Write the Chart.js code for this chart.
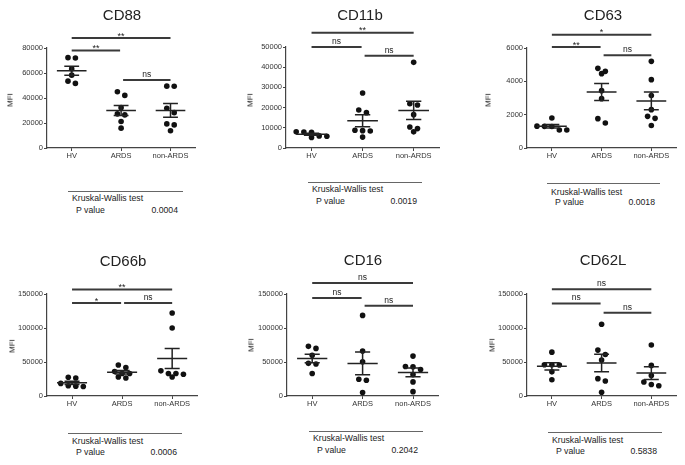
<!DOCTYPE html>
<html>
<head>
<meta charset="utf-8">
<script src="https://cdn.jsdelivr.net/npm/chart.js@4.4.0/dist/chart.umd.min.js"></script>
<style>
  body { margin: 0; background: #fff; width: 685px; height: 465px; position: relative; overflow: hidden;
         font-family: "Liberation Sans", Arial, sans-serif; color: #222; }
  canvas, .title, .mfi, .kw { position: absolute; }
  .title { font-size: 15px; transform: translate(-50%, -50%); white-space: nowrap; }
  .mfi { font-size: 8px; color: #111; transform: translate(-50%, -50%) rotate(-90deg); }
  .kw { border-top: 1.3px solid #666; font-size: 8.7px; }
  .kw span { position: absolute; white-space: nowrap; transform: translateY(-50%); }
</style>
</head>
<body>
<script>
const groups = ["HV", "ARDS", "non-ARDS"];

// CD88
const cd88HV = [72300, 72000, 63300, 58300, 51700, 53500];
const cd88ARDS = [45000, 42100, 32300, 27300, 26500, 21200, 15900];
const cd88NonARDS = [49500, 49400, 31800, 28300, 19300, 18500, 13800];
const cd88Sig = ["**", "**", "ns"];
const cd88P = "0.0004";

// CD11b
const cd11bHV = [8000, 6000, 7800, 5200, 7900, 5800];
const cd11bARDS = [27200, 18800, 17500, 8800, 8600, 8400, 5400];
const cd11bNonARDS = [42400, 21900, 21300, 16500, 10400, 9600, 8000];
const cd11bSig = ["ns", "**", "ns"];
const cd11bP = "0.0019";

// CD63
const cd63HV = [1800, 1310, 1300, 1290, 1080, 1080];
const cd63ARDS = [4600, 4460, 4780, 3440, 2960, 1760, 1500];
const cd63NonARDS = [5200, 4100, 3150, 2300, 1900, 1780, 1350];
const cd63Sig = ["**", "*", "ns"];
const cd63P = "0.0018";

// CD66b
const cd66bHV = [27500, 26500, 18500, 15000, 14500, 14000];
const cd66bARDS = [45500, 42000, 36000, 33000, 33000, 28000, 26500];
const cd66bNonARDS = [122000, 100000, 37000, 33000, 33000, 32000, 28000];
const cd66bSig = ["*", "**", "ns"];
const cd66bP = "0.0006";

// CD16
const cd16HV = [73000, 70000, 60000, 48000, 47000, 33000];
const cd16ARDS = [118500, 66000, 50300, 24700, 23200, 5000];
const cd16NonARDS = [58700, 43400, 42900, 38900, 31500, 20700, 6400];
const cd16Sig = ["ns", "ns", "ns"];
const cd16P = "0.2042";

// CD62L
const cd62lHV = [64500, 46000, 46000, 45500, 35500, 24000];
const cd62lARDS = [105500, 67500, 61000, 53000, 25500, 22000, 5500];
const cd62lNonARDS = [75000, 45000, 30000, 20500, 17000, 15000];
const cd62lSig = ["ns", "ns", "ns"];
const cd62lP = "0.5838";

// comparisons, same order as the Sig arrays
const pairs = [[0, 1], [0, 2], [1, 2]];

Chart.defaults.font.family = "'Liberation Sans', Arial, sans-serif";
Chart.defaults.font.size = 7.5;
Chart.defaults.color = "#333";

const panels = [
  { title: "CD88", data: [cd88HV, cd88ARDS, cd88NonARDS], yMax: 80000, step: 20000, sig: cd88Sig, p: cd88P,
    box: { x0: 47, x1: 196, top: 48, bottom: 148 }, levels: [0.976, 1.10, 0.68],
    titleAt: [122, 14], mfiAt: [10, 100], table: { x: 68, w: 115, y: 191, kw: 6, pv: 17.5 } },
  { title: "CD11b", data: [cd11bHV, cd11bARDS, cd11bNonARDS], yMax: 50000, step: 10000, sig: cd11bSig, p: cd11bP,
    box: { x0: 286, x1: 440, top: 47, bottom: 148 }, levels: [1.0, 1.142, 0.914],
    titleAt: [360, 14], mfiAt: [250, 100], table: { x: 308, w: 114, y: 182, kw: 5.6, pv: 17.6 } },
  { title: "CD63", data: [cd63HV, cd63ARDS, cd63NonARDS], yMax: 6000, step: 2000, sig: cd63Sig, p: cd63P,
    box: { x0: 527, x1: 677, top: 48, bottom: 148 }, levels: [1.01, 1.133, 0.927],
    titleAt: [603, 14], mfiAt: [488, 100], table: { x: 547, w: 113, y: 183, kw: 8.4, pv: 18.4 } },
  { title: "CD66b", data: [cd66bHV, cd66bARDS, cd66bNonARDS], yMax: 150000, step: 50000, sig: cd66bSig, p: cd66bP,
    box: { x0: 47, x1: 198, top: 294, bottom: 396 }, levels: [0.911, 1.043, 0.911],
    titleAt: [123, 260], mfiAt: [12, 346], table: { x: 68, w: 114, y: 433, kw: 7.3, pv: 18 } },
  { title: "CD16", data: [cd16HV, cd16ARDS, cd16NonARDS], yMax: 150000, step: 50000, sig: cd16Sig, p: cd16P,
    box: { x0: 287, x1: 439, top: 294, bottom: 396 }, levels: [0.961, 1.109, 0.885],
    titleAt: [363, 259], mfiAt: [251, 345], table: { x: 309, w: 114, y: 431, kw: 6.2, pv: 18.3 } },
  { title: "CD62L", data: [cd62lHV, cd62lARDS, cd62lNonARDS], yMax: 150000, step: 50000, sig: cd62lSig, p: cd62lP,
    box: { x0: 527, x1: 677, top: 294, bottom: 396 }, levels: [0.908, 1.046, 0.817],
    titleAt: [603, 259], mfiAt: [492, 345], table: { x: 548, w: 114, y: 432, kw: 6.6, pv: 17.6 } },
];

const PAD_TOP = 40, Y_W = 45, X_H = 20, PAD_RIGHT = 2;

// spread points that sit at about the same height side by side
function swarm(values, gi, yMax) {
  const pxPer = 100 / yMax, step = 7.5 / 50;
  const order = values.map((v, i) => i).sort((a, b) => values[b] - values[a]);
  const pts = [];
  let row = [];
  const flush = () => {
    row.forEach((v, k) => pts.push({ x: gi + 1 + (k - (row.length - 1) / 2) * step, y: v }));
    row = [];
  };
  order.forEach((i) => {
    const v = values[i];
    if (row.length && (row[0] - v) * pxPer >= 4.5) flush();
    row.push(v);
  });
  flush();
  return pts;
}

function addDiv(cls, text, x, y) {
  const d = document.createElement("div");
  d.className = cls;
  d.textContent = text;
  d.style.left = x + "px";
  d.style.top = y + "px";
  document.body.appendChild(d);
  return d;
}

function makePanel(panel) {
  const b = panel.box;
  const canvas = document.createElement("canvas");
  canvas.width = b.x1 - b.x0 + Y_W + PAD_RIGHT;
  canvas.height = b.bottom - b.top + PAD_TOP + X_H;
  canvas.style.left = b.x0 - Y_W + "px";
  canvas.style.top = b.top - PAD_TOP + "px";
  document.body.appendChild(canvas);

  // mean with SEM error bars
  const meanSem = {
    id: "meanSem",
    afterDatasetsDraw(chart) {
      const { ctx, scales: { x, y } } = chart;
      ctx.save();
      ctx.strokeStyle = "#222";
      ctx.lineWidth = 1.5;
      panel.data.forEach((vals, i) => {
        const n = vals.length;
        const mean = vals.reduce((a, c) => a + c, 0) / n;
        const sd = Math.sqrt(vals.reduce((a, c) => a + (c - mean) ** 2, 0) / (n - 1));
        const sem = sd / Math.sqrt(n);
        const cx = x.getPixelForValue(i + 1);
        const half = x.getPixelForValue(1.3) - x.getPixelForValue(1);
        const ym = y.getPixelForValue(mean);
        const yHi = y.getPixelForValue(mean + sem);
        const yLo = y.getPixelForValue(mean - sem);
        ctx.beginPath();
        ctx.moveTo(cx - half, ym); ctx.lineTo(cx + half, ym);
        ctx.moveTo(cx - half / 2, yHi); ctx.lineTo(cx + half / 2, yHi);
        ctx.moveTo(cx - half / 2, yLo); ctx.lineTo(cx + half / 2, yLo);
        ctx.moveTo(cx, yHi); ctx.lineTo(cx, yLo);
        ctx.stroke();
      });
      ctx.restore();
    },
  };

  // significance brackets
  const brackets = {
    id: "brackets",
    afterDraw(chart) {
      const { ctx, scales: { x, y } } = chart;
      ctx.save();
      ctx.strokeStyle = "#3a3a3a";
      ctx.fillStyle = "#222";
      ctx.lineWidth = 2;
      ctx.textAlign = "center";
      pairs.forEach(([a, c], k) => {
        let x1 = x.getPixelForValue(a + 1);
        let x2 = x.getPixelForValue(c + 1);
        if (a === 1) x1 += 2;
        if (c === 1) x2 -= 1;
        const yy = y.getPixelForValue(panel.levels[k] * panel.yMax);
        ctx.beginPath();
        ctx.moveTo(x1, yy);
        ctx.lineTo(x2, yy);
        ctx.stroke();
        const label = panel.sig[k];
        const star = label.indexOf("*") >= 0;
        ctx.font = (star ? "9px" : "8.5px") + " 'Liberation Sans', Arial, sans-serif";
        ctx.textBaseline = "alphabetic";
        ctx.fillText(label, (x1 + x2) / 2, star ? yy + 0.5 : yy - 3);
      });
      ctx.restore();
    },
  };

  const datasets = [{
    data: panel.data.flatMap((vals, gi) => swarm(vals, gi, panel.yMax)),
    pointRadius: 2.8,
    pointHoverRadius: 2.8,
    backgroundColor: "#111",
    borderWidth: 0,
    clip: false,
  }];

  new Chart(canvas, {
    type: "scatter",
    data: { datasets },
    options: {
      responsive: false,
      animation: false,
      devicePixelRatio: 1,
      layout: { padding: { top: PAD_TOP, right: PAD_RIGHT, left: 0, bottom: 0 } },
      plugins: { legend: { display: false }, tooltip: { enabled: false } },
      scales: {
        x: {
          type: "linear",
          min: 0.5,
          max: 3.5,
          afterBuildTicks: (s) => { s.ticks = [{ value: 1 }, { value: 2 }, { value: 3 }]; },
          afterFit: (s) => { s.height = X_H; },
          ticks: { callback: (v) => groups[v - 1], padding: 0, maxRotation: 0, autoSkip: false },
          grid: { drawOnChartArea: false, tickLength: 3, color: "#444" },
          border: { color: "#444", width: 1.2 },
        },
        y: {
          min: 0,
          max: panel.yMax,
          afterFit: (s) => { s.width = Y_W; },
          ticks: { stepSize: panel.step, callback: (v) => String(v), padding: 1 },
          grid: { drawOnChartArea: false, tickLength: 3, color: "#444" },
          border: { color: "#444", width: 1.2 },
        },
      },
    },
    plugins: [meanSem, brackets],
  });

  addDiv("title", panel.title, panel.titleAt[0], panel.titleAt[1]);
  addDiv("mfi", "MFI", panel.mfiAt[0], panel.mfiAt[1]);

  const t = panel.table;
  const tbl = addDiv("kw", "", t.x, t.y);
  tbl.style.width = t.w + "px";
  const kw = document.createElement("span");
  kw.textContent = "Kruskal-Wallis test";
  kw.style.left = "4px";
  kw.style.top = t.kw + "px";
  const pl = document.createElement("span");
  pl.textContent = "P value";
  pl.style.left = "8px";
  pl.style.top = t.pv + "px";
  const pv = document.createElement("span");
  pv.textContent = panel.p;
  pv.style.right = "5px";
  pv.style.top = t.pv + "px";
  tbl.append(kw, pl, pv);
}

panels.forEach(makePanel);
</script>
</body>
</html>
